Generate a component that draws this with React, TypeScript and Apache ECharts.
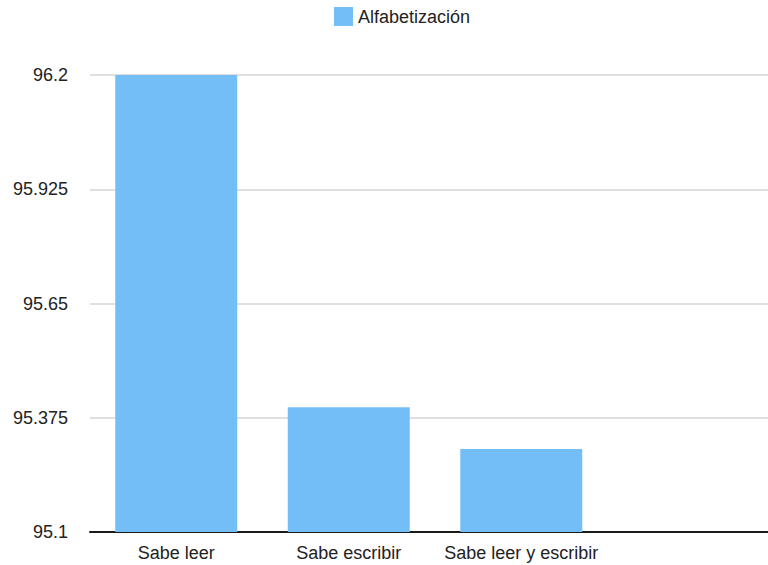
import React, { useEffect, useRef } from "react";
import * as echarts from "echarts";

// Literacy shares by category
const categories: string[] = ["Sabe leer", "Sabe escribir", "Sabe leer y escribir", ""];
const alfabetizacion: (number | null)[] = [96.2, 95.4, 95.3, null];
const seriesName = "Alfabetización";

// Value axis range and step
const yMin = 95.1;
const yMax = 96.2;
const yStep = 0.275;

const FONT = "'Liberation Sans', Arial, Helvetica, sans-serif";
const TEXT = "#222222";
const BAR = "#74BEF8";

export default function App() {
  const ref = useRef<HTMLDivElement>(null);

  useEffect(() => {
    if (!ref.current) return;
    const chart = echarts.init(ref.current, undefined, { renderer: "svg" });
    chart.setOption({
      animation: false,
      backgroundColor: "#ffffff",
      textStyle: { fontFamily: FONT },
      legend: {
        data: [seriesName],
        left: 334,
        top: 7,
        padding: 0,
        itemWidth: 19,
        itemHeight: 19,
        itemGap: 10,
        icon: "rect",
        textStyle: { fontSize: 18, color: TEXT, fontFamily: FONT },
      },
      grid: {
        left: 90,
        width: 690,
        top: 75,
        bottom: 33,
        containLabel: false,
        outerBoundsMode: "none",
      },
      xAxis: {
        type: "category",
        data: categories,
        axisLine: { show: true, lineStyle: { color: "#1a1a1a", width: 2 } },
        axisTick: { show: false },
        axisLabel: {
          fontSize: 18,
          color: TEXT,
          fontFamily: FONT,
          margin: 12,
          interval: 0,
        },
      },
      yAxis: {
        type: "value",
        min: yMin,
        max: yMax,
        interval: yStep,
        axisLine: { show: false },
        axisTick: { show: false },
        splitLine: { show: true, lineStyle: { color: "#d6d6d6", width: 1.5 } },
        axisLabel: {
          fontSize: 18,
          color: TEXT,
          fontFamily: FONT,
          margin: 22,
          formatter: (v: number) => String(parseFloat(v.toFixed(3))),
        },
      },
      series: [
        {
          name: seriesName,
          type: "bar",
          data: alfabetizacion,
          barWidth: 122,
          itemStyle: { color: BAR },
        },
      ],
    });
    return () => chart.dispose();
  }, []);

  return (
    <div
      ref={ref}
      style={{ position: "absolute", left: 0, top: 0, width: 768, height: 565, overflow: "hidden" }}
    />
  );
}
